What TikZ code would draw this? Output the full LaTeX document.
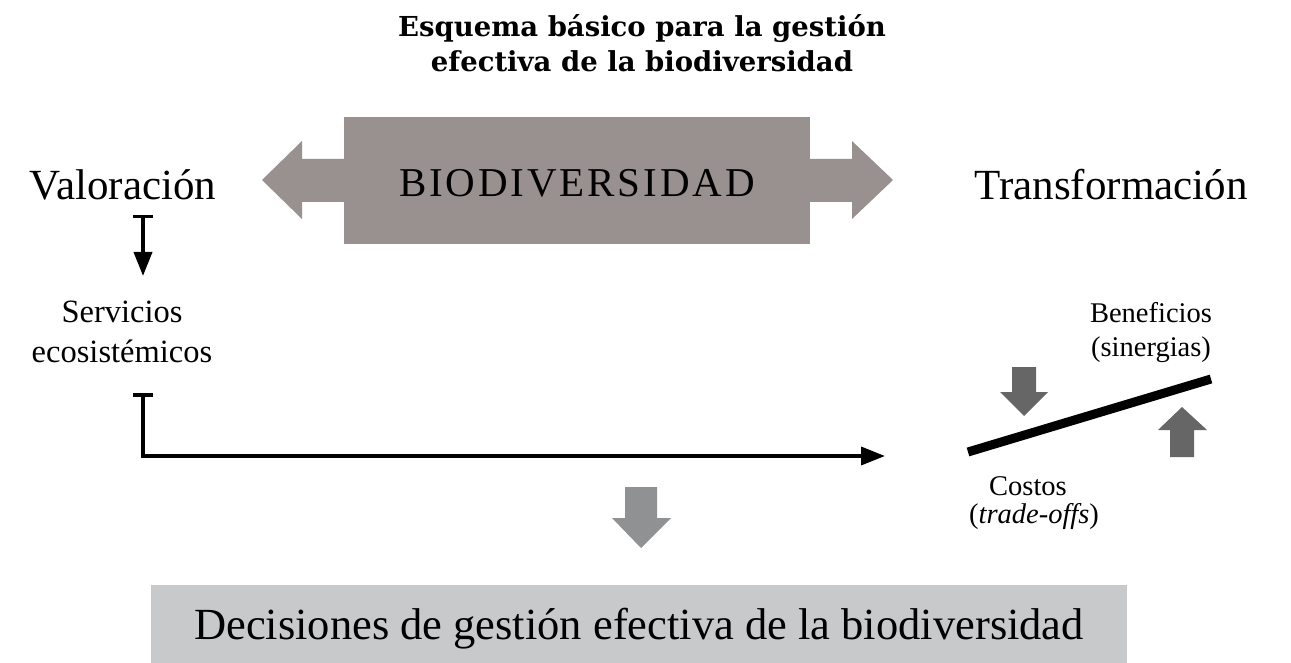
\documentclass[tikz,border=0pt]{standalone}
\usepackage{fontspec}
\setmainfont{Liberation Serif}
\newfontfamily\titlefont{DejaVu Serif}
\newfontfamily\capsfont[LetterSpace=7]{Liberation Serif}
\usetikzlibrary{arrows.meta}
\definecolor{boxgray}{HTML}{989190}
\definecolor{darkarrow}{HTML}{666666}
\definecolor{midarrow}{HTML}{909193}
\definecolor{decbox}{HTML}{C8C9CB}
\tikzset{
  big/.style={font=\fontsize{43}{48}\selectfont, inner sep=0pt, anchor=base},
  small/.style={font=\fontsize{32.5}{40}\selectfont, inner sep=0pt, anchor=base},
  tiny/.style={font=\fontsize{28.5}{34}\selectfont, inner sep=0pt, anchor=base},
  conn/.style={line width=3.5pt, {Bar[width=20pt]}-{Triangle[length=24pt,width=18pt]}},
}
\begin{document}
\begin{tikzpicture}[x=1pt,y=-1pt]
\useasboundingbox (0,0) rectangle (1291,663);
% title
\node[font=\titlefont\bfseries\fontsize{27.5}{35}\selectfont, align=center, inner sep=0pt, anchor=base] (title) at (642,72)
  {Esquema básico para la gestión\\efectiva de la biodiversidad};
% biodiversity box with arrows
\fill[boxgray] (344,159) -- (302,159) -- (302,141) -- (262,180) -- (302,219) -- (302,202) -- (344,202) -- cycle;
\fill[boxgray] (810,159) -- (852,159) -- (852,141) -- (893,180) -- (852,219) -- (852,202) -- (810,202) -- cycle;
\node[fill=boxgray, minimum width=466pt, minimum height=127pt, anchor=north west, inner sep=0pt] (bio) at (344,117) {};
\node[font=\capsfont\fontsize{41}{48}\selectfont, inner sep=0pt, anchor=base] (biotext) at (577,197) {BIODIVERSIDAD};
% side labels
\node[big] (valor) at (123,200) {Valoración};
\node[big] (transf) at (1111,200) {Transformación};
\node[small] (serv1) at (122,322) {Servicios};
\node[small] (serv2) at (122,362) {ecosistémicos};
\node[tiny] (benef1) at (1151,322) {Beneficios};
\node[tiny] (benef2) at (1151,356) {(sinergias)};
\node[tiny] (cost1) at (1028,495) {Costos};
\node[tiny] (cost2) at (1034,523) {(\textit{trade-offs})};
% connectors
\coordinate (v1) at (143,215);
\coordinate (v2) at (143,276);
\draw[conn] (v1) -- (v2);
\coordinate (s1) at (143,393);
\coordinate (s2) at (143,456);
\coordinate (s3) at (885,456);
\draw[conn] (s1) -- (s2) -- (s3);
% balance
\draw[line width=9pt] (968,452) -- (1211,379);
\fill[darkarrow] (1012,367) -- (1036,367) -- (1036,392) -- (1048,392) -- (1024,416) -- (1000,392) -- (1012,392) -- cycle;
\fill[darkarrow] (1170,457) -- (1194,457) -- (1194,430) -- (1207,430) -- (1182,407) -- (1158,430) -- (1170,430) -- cycle;
% bottom arrow
\fill[midarrow] (625,487) -- (657,487) -- (657,518) -- (671,518) -- (641,548) -- (612,518) -- (625,518) -- cycle;
% decision box
\node[fill=decbox, minimum width=976pt, minimum height=80pt, anchor=north west, inner sep=0pt] (dec) at (151,585) {};
\node[font=\fontsize{44.5}{50}\selectfont, inner sep=0pt, anchor=base] (dectext) at (639,639) {Decisiones de gestión efectiva de la biodiversidad};
\end{tikzpicture}
\end{document}
